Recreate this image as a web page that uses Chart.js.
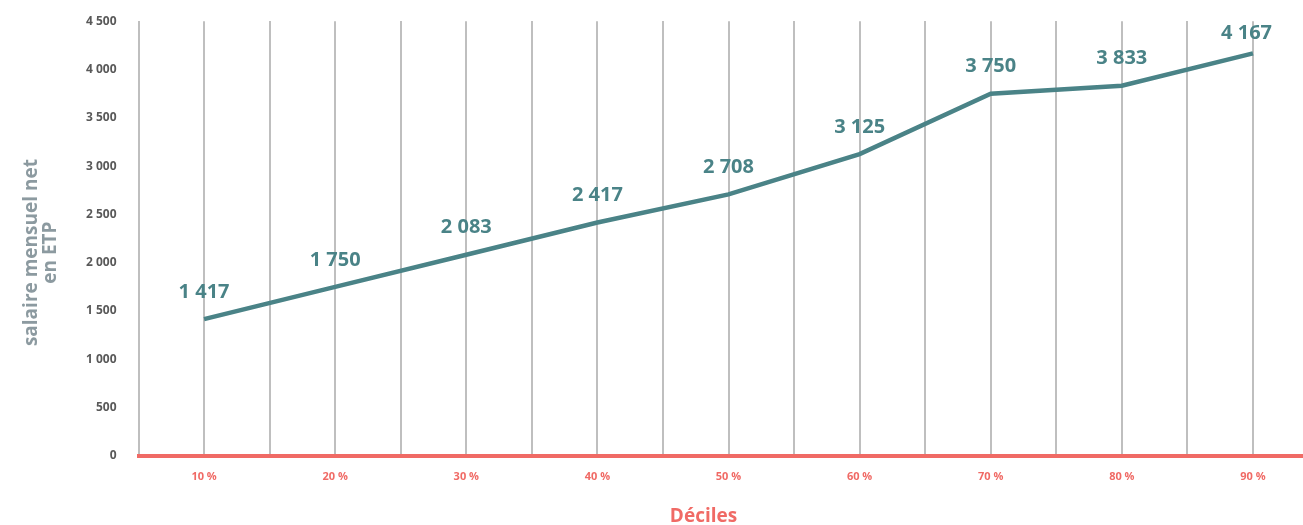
<!DOCTYPE html>
<html>
<head>
<meta charset="utf-8">
<script src="https://cdn.jsdelivr.net/npm/chart.js@4"></script>
<style>
  html, body { margin: 0; padding: 0; background: #fff; overflow: hidden; }
  #salaireChart { display: block; }
</style>
</head>
<body>
<canvas id="salaireChart" width="1320" height="525"></canvas>
<script>
// déciles du salaire mensuel net en ETP
const deciles = ['10 %', '20 %', '30 %', '40 %', '50 %', '60 %', '70 %', '80 %', '90 %'];
const salaires = [1417, 1750, 2083, 2417, 2708, 3125, 3750, 3833, 4167];
const yMin = 0;
const yMax = 4500;
const yStep = 500;
const titreY = ['salaire mensuel net', 'en ETP'];
const titreX = 'Déciles';

const tealColor = '#4a8387';
const redColor = '#f06a65';

function espaceMilliers(v) {
    return String(v).replace(/\B(?=(\d{3})+(?!\d))/g, ' ');
}

// étiquettes de valeur au-dessus des points
const labelsPlugin = {
    id: 'valueLabels',
    afterDatasetsDraw(chart) {
        const ctx = chart.ctx;
        const meta = chart.getDatasetMeta(0);
        ctx.save();
        ctx.font = 'bold 20px "Open Sans"';
        ctx.fillStyle = tealColor;
        ctx.textAlign = 'center';
        ctx.textBaseline = 'middle';
        meta.data.forEach(function(pt, i) {
            const txt = espaceMilliers(salaires[i]);
            const w = ctx.measureText(txt).width;
            let x = pt.x;
            let y = pt.y - 27;
            if (y < chart.chartArea.top + 12) y = chart.chartArea.top + 12;
            if (x + w / 2 > chart.width - 48) x = chart.width - 48 - w / 2;
            ctx.fillText(txt, x, y);
        });
        ctx.restore();
    }
};

// titres des axes (placés comme dans le graphique d'origine)
const titresPlugin = {
    id: 'axisTitles',
    afterDraw(chart) {
        const ctx = chart.ctx;
        const area = chart.chartArea;
        ctx.save();
        ctx.textAlign = 'center';
        ctx.textBaseline = 'middle';
        // titre vertical
        ctx.font = 'bold 19px "Open Sans"';
        ctx.fillStyle = '#8c9aa0';
        ctx.translate(0, (area.top + area.bottom) / 2 + 14);
        ctx.rotate(-Math.PI / 2);
        titreY.forEach(function(t, i) {
            ctx.fillText(t, 0, 32 + i * 19);
        });
        ctx.restore();
        // titre horizontal
        ctx.save();
        ctx.textAlign = 'center';
        ctx.textBaseline = 'middle';
        ctx.font = 'bold 19px "Open Sans"';
        ctx.fillStyle = redColor;
        ctx.fillText(titreX, (area.left + area.right) / 2 - 25, chart.height - 8);
        ctx.restore();
    }
};

document.addEventListener("DOMContentLoaded", function() {
    const ctx = document.getElementById('salaireChart').getContext('2d');
    new Chart(ctx, {
        type: 'line',
        data: {
            labels: deciles,
            datasets: [{
                data: salaires,
                borderColor: tealColor,
                borderWidth: 4.5,
                pointRadius: 0,
                tension: 0,
                fill: false
            }]
        },
        options: {
            responsive: false,
            animation: false,
            layout: { padding: { top: 20, right: 1.5, left: 0, bottom: 0 } },
            plugins: {
                legend: { display: false },
                tooltip: { enabled: false }
            },
            scales: {
                x: {
                    position: 'bottom',
                    offset: true,
                    grid: {
                        offset: false,
                        color: '#bfbfbf',
                        lineWidth: 2,
                        drawTicks: false
                    },
                    border: { display: true, color: redColor, width: 4 },
                    ticks: {
                        padding: 14,
                        color: redColor,
                        font: { family: 'Open Sans', size: 11, weight: 'bold' }
                    },
                    afterFit(scale) { scale.height = 69; }
                },
                x2: {
                    type: 'category',
                    labels: deciles,
                    position: 'top',
                    offset: true,
                    grid: {
                        offset: true,
                        color: '#bfbfbf',
                        lineWidth: 2,
                        drawTicks: false
                    },
                    border: { display: false },
                    ticks: { display: false },
                    afterFit(scale) { scale.height = 0; }
                },
                y: {
                    min: yMin,
                    max: yMax,
                    grid: { display: false },
                    border: { display: false },
                    ticks: {
                        stepSize: yStep,
                        padding: 14,
                        color: '#595959',
                        font: { family: 'Open Sans', size: 12, weight: 'bold' },
                        callback: function(v) { return espaceMilliers(v); }
                    },
                    afterFit(scale) { scale.width = 138.5; }
                }
            }
        },
        plugins: [labelsPlugin, titresPlugin]
    });
});
</script>
</body>
</html>
